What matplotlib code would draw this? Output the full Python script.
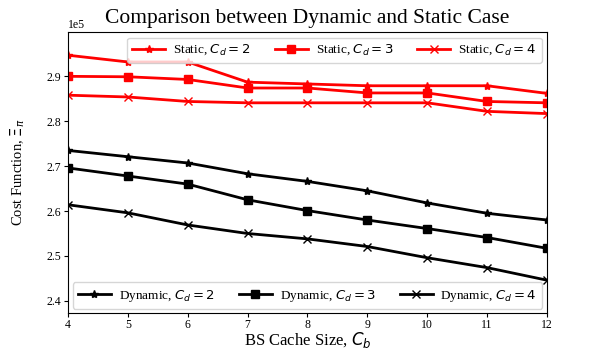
import numpy as np
import matplotlib; matplotlib.use("Agg")
import matplotlib.pyplot as plt

plt.rcParams['font.family'] = ['Liberation Serif', 'DejaVu Serif']

# --- data ---
cache_size = [4, 5, 6, 7, 8, 9, 10, 11, 12]
static_cd2 = [2.947, 2.932, 2.932, 2.887, 2.883, 2.879, 2.879, 2.879, 2.862]
static_cd3 = [2.900, 2.899, 2.893, 2.874, 2.874, 2.863, 2.863, 2.844, 2.841]
static_cd4 = [2.858, 2.854, 2.844, 2.841, 2.841, 2.841, 2.841, 2.822, 2.817]
dynamic_cd2 = [2.735, 2.721, 2.707, 2.683, 2.666, 2.645, 2.618, 2.595, 2.580]
dynamic_cd3 = [2.696, 2.678, 2.660, 2.625, 2.601, 2.580, 2.561, 2.541, 2.517]
dynamic_cd4 = [2.614, 2.596, 2.569, 2.550, 2.538, 2.521, 2.496, 2.474, 2.446]

fig = plt.figure(figsize=(5.98, 3.49), dpi=100)
ax = fig.add_axes([0.1137, 0.1032, 0.801, 0.8042])

x = np.array(cache_size)
s = 1e5
st = []
st += ax.plot(x, np.array(static_cd2)*s, 'r-*', lw=2, ms=6, label='Static, $C_d = 2$')
st += ax.plot(x, np.array(static_cd3)*s, 'r-s', lw=2, ms=6, label='Static, $C_d = 3$')
st += ax.plot(x, np.array(static_cd4)*s, 'r-x', lw=2, ms=6, label='Static, $C_d = 4$')
dy = []
dy += ax.plot(x, np.array(dynamic_cd2)*s, 'k-*', lw=2, ms=6, label='Dynamic, $C_d = 2$')
dy += ax.plot(x, np.array(dynamic_cd3)*s, 'k-s', lw=2, ms=6, label='Dynamic, $C_d = 3$')
dy += ax.plot(x, np.array(dynamic_cd4)*s, 'k-x', lw=2, ms=6, label='Dynamic, $C_d = 4$')

ax.set_xlim(4, 12)
ax.set_ylim(2.373e5, 2.998e5)
ax.set_xticks(cache_size)
ax.ticklabel_format(axis='y', style='sci', scilimits=(0, 0))
ax.tick_params(labelsize=8.5, length=3, pad=2)
ax.tick_params(axis='x', pad=1)
ax.yaxis.get_offset_text().set_fontsize(8.5)

leg_kw = dict(ncol=3, fontsize=9.5, handlelength=2.5, handletextpad=0.6, columnspacing=1.8)
leg1 = ax.legend(handles=st, loc='upper right', borderaxespad=0.4, **leg_kw)
ax.add_artist(leg1)
ax.legend(handles=dy, loc='lower center', borderaxespad=0.3, **leg_kw)

ax.set_xlabel('BS Cache Size, $C_b$', fontsize=12)
ax.xaxis.set_label_coords(0.5, -0.062)
ax.set_ylabel('Cost Function, $\\Xi_{\\pi}$', fontsize=10.5)
ax.yaxis.set_label_coords(-0.085, 0.5)
ax.set_title('Comparison between Dynamic and Static Case', fontsize=15.5, pad=7)

fig.savefig('out.png', dpi=100)
